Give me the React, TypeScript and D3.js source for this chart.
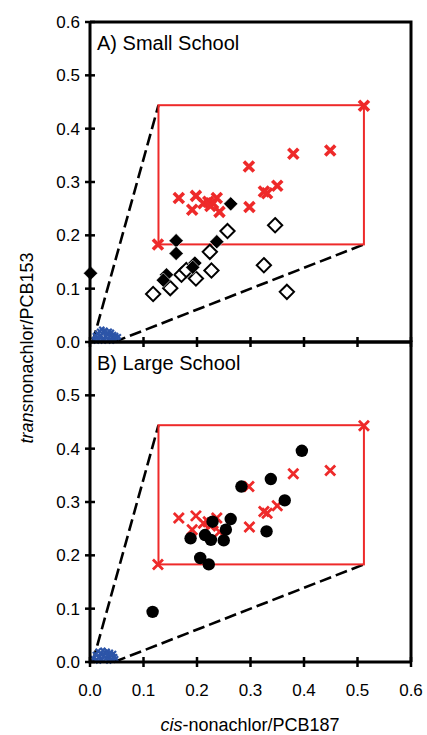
import React from 'react';
import * as d3 from 'd3';

// red reference crosses (same set drawn in both panels)
const redX = [
  [0.512, 0.443], [0.297, 0.329], [0.380, 0.353], [0.449, 0.359],
  [0.166, 0.270], [0.198, 0.274], [0.191, 0.248], [0.212, 0.260],
  [0.221, 0.263], [0.230, 0.260], [0.237, 0.270], [0.242, 0.244],
  [0.225, 0.255], [0.298, 0.253], [0.325, 0.282], [0.331, 0.279],
  [0.350, 0.293], [0.127, 0.183],
];

// small school: filled diamonds
const smallFilled = [
  [0.001, 0.129], [0.161, 0.190], [0.161, 0.166], [0.263, 0.259],
  [0.237, 0.188], [0.196, 0.148], [0.192, 0.140], [0.143, 0.126],
  [0.137, 0.116],
];

// small school: open diamonds
const smallOpen = [
  [0.118, 0.090], [0.150, 0.101], [0.171, 0.126], [0.180, 0.135],
  [0.198, 0.119], [0.227, 0.134], [0.224, 0.169], [0.257, 0.208],
  [0.346, 0.219], [0.325, 0.144], [0.368, 0.094],
];

// large school: filled circles
const largeDots = [
  [0.396, 0.396], [0.338, 0.343], [0.283, 0.329], [0.364, 0.303],
  [0.229, 0.263], [0.263, 0.268], [0.188, 0.232], [0.215, 0.238],
  [0.226, 0.229], [0.254, 0.248], [0.250, 0.228], [0.330, 0.245],
  [0.206, 0.195], [0.222, 0.183], [0.117, 0.094],
];

// blue cluster near the origin
const blueTop = [
  [0.008, 0.004], [0.010, 0.012], [0.012, 0.008], [0.014, 0.016], [0.016, 0.004],
  [0.018, 0.020], [0.020, 0.012], [0.022, 0.024], [0.024, 0.006], [0.026, 0.018],
  [0.028, 0.022], [0.030, 0.010], [0.032, 0.016], [0.034, 0.004], [0.036, 0.020],
  [0.038, 0.012], [0.040, 0.018], [0.042, 0.008], [0.044, 0.014], [0.046, 0.004],
  [0.048, 0.012], [0.050, 0.008], [0.053, 0.010], [0.012, 0.002], [0.025, 0.002],
  [0.040, 0.002],
];
const blueBottom = [
  [0.006, 0.006], [0.010, 0.014], [0.012, 0.004], [0.015, 0.020], [0.018, 0.010],
  [0.020, 0.016], [0.022, 0.004], [0.024, 0.022], [0.026, 0.012], [0.028, 0.018],
  [0.030, 0.006], [0.032, 0.020], [0.034, 0.014], [0.036, 0.008], [0.038, 0.018],
  [0.040, 0.012], [0.042, 0.004], [0.044, 0.016], [0.046, 0.010], [0.048, 0.006],
  [0.016, 0.002], [0.035, 0.002],
];

// envelope: dashed lines and red box
const dashUpper = [[0.005, 0], [0.128, 0.444]];
const dashLower = [[0.045, 0], [0.512, 0.183]];
const box = { x0: 0.128, x1: 0.512, y0: 0.183, y1: 0.444 };

const xTicks = [0, 0.1, 0.2, 0.3, 0.4, 0.5, 0.6];
const yTicksTop = [0, 0.1, 0.2, 0.3, 0.4, 0.5, 0.6];
const yTicksBottom = [0, 0.1, 0.2, 0.3, 0.4, 0.5];

const W = 427, H = 735;
const left = 90, right = 411;
const font = 'Liberation Sans, Arial, sans-serif';
const RED = '#ee2a2a';
const BLUE = '#2d55a8';

const x = d3.scaleLinear().domain([0, 0.6]).range([left, right]);

function Panel({ y, label, kind }) {
  const line = d3.line().x(d => x(d[0])).y(d => y(d[1]));
  const diamond = d3.symbol().type(d3.symbolDiamond2).size(130);
  const [top, bottom] = y.range().slice().reverse();
  const blue = kind === 'small' ? blueTop : blueBottom;
  const xw = kind === 'small' ? 3.6 : 2.8;
  return (
    <g>
      <path d={line(dashUpper)} stroke="#000" strokeWidth={2.6} strokeDasharray="12 5" fill="none" />
      <path d={line(dashLower)} stroke="#000" strokeWidth={2.6} strokeDasharray="12 5" fill="none" />
      <rect x={x(box.x0)} y={y(box.y1)} width={x(box.x1) - x(box.x0)} height={y(box.y0) - y(box.y1)}
        fill="none" stroke={RED} strokeWidth={2} />
      {blue.map((d, i) => (
        <path key={'b' + i} d={`M${x(d[0]) - 2.5},${y(d[1]) - 2.5}l5,5M${x(d[0]) - 2.5},${y(d[1]) + 2.5}l5,-5`}
          stroke={BLUE} strokeWidth={2.2} />
      ))}
      {redX.map((d, i) => (
        <path key={'r' + i} d={`M${x(d[0]) - 5},${y(d[1]) - 5}l10,10M${x(d[0]) - 5},${y(d[1]) + 5}l10,-10`}
          stroke={RED} strokeWidth={xw} />
      ))}
      {kind === 'small' && smallOpen.map((d, i) => (
        <path key={'o' + i} d={diamond()} transform={`translate(${x(d[0])},${y(d[1])})`}
          fill="#fff" stroke="#000" strokeWidth={2} />
      ))}
      {kind === 'small' && smallFilled.map((d, i) => (
        <path key={'f' + i} d={diamond()} transform={`translate(${x(d[0])},${y(d[1])})`}
          fill="#000" stroke="#fff" strokeWidth={0.6} />
      ))}
      {kind === 'large' && largeDots.map((d, i) => (
        <circle key={'c' + i} cx={x(d[0])} cy={y(d[1])} r={6.2} fill="#000" />
      ))}
      <text x={97} y={top + 28} fontFamily={font} fontSize={20}>{label}</text>
      {/* frame */}
      <path d={`M${left},${top}H${right}V${bottom}M${left},${top}V${bottom}H${right}`}
        stroke="#000" strokeWidth={3} fill="none" />
    </g>
  );
}

export default function App() {
  const yTop = d3.scaleLinear().domain([0, 0.6]).range([342, 22]);
  const yBot = d3.scaleLinear().domain([0, 0.6]).range([662, 342]);
  const fmt = d3.format('.1f');
  return (
    <svg width={W} height={H} style={{ position: 'absolute', left: 0, top: 0, background: '#fff' }}>
      <Panel y={yTop} label="A) Small School" kind="small" />
      <Panel y={yBot} label="B) Large School" kind="large" />
      {/* y ticks */}
      {yTicksTop.map(t => (
        <g key={'yt' + t}>
          <line x1={left - 5} x2={left + 5} y1={yTop(t)} y2={yTop(t)} stroke="#000" strokeWidth={2.5} />
          <text x={80} y={yTop(t)} dy="0.36em" textAnchor="end" fontFamily={font} fontSize={17}>{fmt(t)}</text>
        </g>
      ))}
      {yTicksBottom.map(t => (
        <g key={'yb' + t}>
          <line x1={left - 5} x2={left + 5} y1={yBot(t)} y2={yBot(t)} stroke="#000" strokeWidth={2.5} />
          <text x={80} y={yBot(t)} dy="0.36em" textAnchor="end" fontFamily={font} fontSize={17}>{fmt(t)}</text>
        </g>
      ))}
      {/* x ticks on both panel bottoms */}
      {xTicks.map(t => (
        <g key={'x' + t}>
          <line x1={x(t)} x2={x(t)} y1={337} y2={347} stroke="#000" strokeWidth={2.5} />
          <line x1={x(t)} x2={x(t)} y1={657} y2={667} stroke="#000" strokeWidth={2.5} />
          <text x={x(t)} y={696} textAnchor="middle" fontFamily={font} fontSize={17}>{fmt(t)}</text>
        </g>
      ))}
      <text x={250} y={731} textAnchor="middle" fontFamily={font} fontSize={18}>
        <tspan fontStyle="italic">cis</tspan>-nonachlor/PCB187
      </text>
      <text transform="translate(33,348) rotate(-90)" textAnchor="middle" fontFamily={font} fontSize={18}>
        <tspan fontStyle="italic">trans</tspan>nonachlor/PCB153
      </text>
    </svg>
  );
}
